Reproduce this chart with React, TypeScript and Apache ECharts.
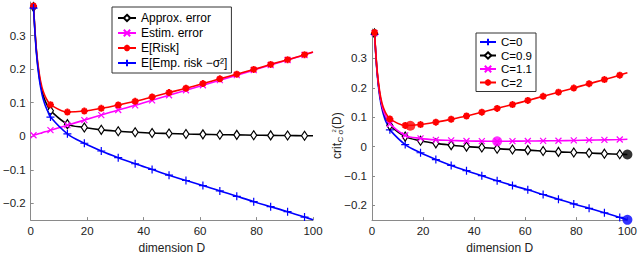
import React, { useEffect, useRef } from "react";
import * as echarts from "echarts";

// dimension D at which the curves are drawn (markers every 6 from 1 to 97)
const dims = [1, 2, 3, 4, 5, 6, 7, 13, 19, 25, 31, 37, 43, 49, 55, 61, 67, 73, 79, 85, 91, 97, 100];
const markerDims = [1, 7, 13, 19, 25, 31, 37, 43, 49, 55, 61, 67, 73, 79, 85, 91, 97];

// left panel
const approxError = [0.385, 0.255, 0.18, 0.135, 0.108, 0.09, 0.076, 0.036, 0.026, 0.019, 0.015, 0.012, 0.0095, 0.008, 0.0065, 0.0055, 0.0045, 0.004, 0.003, 0.0025, 0.002, 0.0015, 0.0012];
const estimError = [0.003, 0.005, 0.008, 0.01, 0.013, 0.015, 0.018, 0.033, 0.048, 0.063, 0.078, 0.092, 0.107, 0.122, 0.137, 0.152, 0.167, 0.182, 0.197, 0.212, 0.227, 0.242, 0.25];
const expRisk = [0.388, 0.26, 0.188, 0.145, 0.121, 0.105, 0.094, 0.072, 0.075, 0.083, 0.093, 0.104, 0.117, 0.13, 0.143, 0.157, 0.171, 0.185, 0.199, 0.214, 0.228, 0.243, 0.251];
const expEmpRisk = [0.382, 0.25, 0.172, 0.125, 0.095, 0.075, 0.057, 0.007, -0.021, -0.044, -0.064, -0.082, -0.099, -0.116, -0.132, -0.147, -0.163, -0.179, -0.195, -0.21, -0.225, -0.241, -0.249];

// right panel
const critC0 = [0.382, 0.25, 0.172, 0.125, 0.095, 0.075, 0.057, 0.007, -0.021, -0.044, -0.064, -0.082, -0.099, -0.116, -0.132, -0.147, -0.163, -0.179, -0.195, -0.21, -0.225, -0.241, -0.249];
const critC09 = [0.385, 0.254, 0.179, 0.134, 0.107, 0.088, 0.072, 0.034, 0.02, 0.011, 0.005, 0.0, -0.003, -0.007, -0.01, -0.012, -0.015, -0.018, -0.02, -0.022, -0.024, -0.026, -0.027];
const critC11 = [0.386, 0.256, 0.181, 0.136, 0.109, 0.091, 0.077, 0.038, 0.028, 0.023, 0.021, 0.019, 0.0185, 0.018, 0.0185, 0.019, 0.0195, 0.02, 0.021, 0.022, 0.023, 0.024, 0.025];
const critC2 = [0.388, 0.26, 0.188, 0.145, 0.121, 0.105, 0.094, 0.072, 0.075, 0.083, 0.093, 0.104, 0.117, 0.13, 0.143, 0.157, 0.171, 0.185, 0.199, 0.214, 0.228, 0.243, 0.251];

// selected dimension (minimum of each criterion)
const minC0: [number, number] = [100, -0.249];
const minC09: [number, number] = [100, -0.027];
const minC11: [number, number] = [49, 0.018];
const minC2: [number, number] = [15, 0.071];

const yTicks = [-0.2, -0.1, 0, 0.1, 0.2, 0.3];

const leftNames = ["Approx. error", "Estim. error", "E[Risk]", "E[Emp. risk \u2212\u03c3\u00b2]"];
const rightNames = ["C=0", "C=0.9", "C=1.1", "C=2"];

const FONT = "Liberation Sans, Arial, Helvetica, sans-serif";
const BLACK = "#000000";
const MAGENTA = "#ff00ff";
const RED = "#ff0000";
const BLUE = "#0000ff";

const SYM_PLUS = "path://M5 0V10M0 5H10";
const SYM_X = "path://M0 0L10 10M10 0L0 10";
const SYM_STAR = "path://M5 0V10M0 5H10M1.5 1.5L8.5 8.5M8.5 1.5L1.5 8.5";

function buildData(values: number[], symbol: string) {
  return dims.map((d, i) => {
    const item: any = { value: [d, values[i]] };
    item.symbol = markerDims.includes(d) ? symbol : "none";
    return item;
  });
}

function lineSeries(name: string, values: number[], color: string, symbol: string, size: any, axis: number, fill: string, bw: number, z: number) {
  return {
    type: "line",
    name,
    xAxisIndex: axis,
    yAxisIndex: axis,
    data: buildData(values, symbol),
    symbol,
    symbolSize: size,
    smooth: 0.35,
    z,
    lineStyle: { color, width: 1.6 },
    itemStyle: { color: fill, borderColor: color, borderWidth: bw },
    emphasis: { disabled: true },
  };
}

function fmt(v: number) {
  const r = Math.round(v * 10) / 10;
  if (r === 0) return "0";
  return r < 0 ? "\u2212" + Math.abs(r).toString() : r.toString();
}

function axisPair(gridIndex: number) {
  const xAxis = {
    type: "value",
    gridIndex,
    min: 0,
    max: 100,
    interval: 20,
    name: "dimension D",
    nameLocation: "middle",
    nameGap: 20,
    nameTextStyle: { fontFamily: FONT, fontSize: 12, color: "#222" },
    axisLine: { show: true, onZero: false, lineStyle: { color: "#8a8a8a", width: 1 } },
    axisTick: { show: true, inside: true, length: 3, lineStyle: { color: "#8a8a8a" } },
    axisLabel: { margin: 5, fontFamily: FONT, fontSize: 11.5, color: "#222" },
    splitLine: { show: false },
  };
  const yAxis = {
    type: "value",
    gridIndex,
    min: -0.25,
    max: 0.4,
    axisLine: { show: true, onZero: false, lineStyle: { color: "#8a8a8a", width: 1 } },
    axisTick: { show: true, inside: true, length: 3, lineStyle: { color: "#8a8a8a" }, customValues: yTicks },
    axisLabel: { margin: 5, fontFamily: FONT, fontSize: 11.5, color: "#222", customValues: yTicks, formatter: fmt },
    splitLine: { show: false },
  };
  return { xAxis, yAxis };
}

export default function App() {
  const ref = useRef<HTMLDivElement>(null);
  useEffect(() => {
    if (!ref.current) return;
    const chart = echarts.init(ref.current, null, { renderer: "svg" });
    const a0 = axisPair(0);
    const a1 = axisPair(1);
    const option: any = {
      animation: false,
      backgroundColor: "#ffffff",
      textStyle: { fontFamily: FONT },
      grid: [
        { left: 25, right: 327, top: 2, bottom: 24.5 },
        { left: 372, right: 8, top: 29, bottom: 24 },
      ],
      xAxis: [a0.xAxis, a1.xAxis],
      yAxis: [a0.yAxis, a1.yAxis],
      legend: [
        {
          data: leftNames,
          orient: "vertical",
          left: 112,
          top: 7,
          padding: [5, 4, 4, 5],
          itemWidth: 18,
          itemHeight: 8,
          itemGap: 3,
          borderColor: "#333",
          borderWidth: 1,
          backgroundColor: "#fff",
          textStyle: { fontFamily: FONT, fontSize: 12, color: "#000", lineHeight: 12 },
        },
        {
          data: rightNames,
          orient: "vertical",
          left: 476,
          top: 33,
          padding: [3, 4, 3, 3],
          itemWidth: 16,
          itemHeight: 8,
          itemGap: 1.5,
          borderColor: "#333",
          borderWidth: 1,
          backgroundColor: "#fff",
          textStyle: { fontFamily: FONT, fontSize: 11.5, color: "#000", lineHeight: 11 },
        },
      ],
      graphic: [
        {
          type: "group",
          x: 337,
          y: 134,
          rotation: Math.PI / 2,
          children: [
            { type: "text", x: -25, y: 0, style: { text: "crit", fontFamily: FONT, fontSize: 12, fill: "#222", verticalAlign: "middle" } },
            { type: "text", x: -8.5, y: 3, style: { text: "C \u03c3", fontFamily: FONT, fontSize: 8, fill: "#222", verticalAlign: "middle" } },
            { type: "text", x: 1.5, y: -3, style: { text: "2", fontFamily: FONT, fontSize: 6, fill: "#222", verticalAlign: "middle" } },
            { type: "text", x: 5, y: 0, style: { text: "(D)", fontFamily: FONT, fontSize: 12, fill: "#222", verticalAlign: "middle" } },
          ],
        },
      ],
      series: [
        lineSeries(leftNames[0], approxError, BLACK, "diamond", [6, 9], 0, "#ffffff", 1.2, 2),
        lineSeries(leftNames[1], estimError, MAGENTA, SYM_X, 6, 0, MAGENTA, 1.2, 3),
        lineSeries(leftNames[2], expRisk, RED, SYM_STAR, 7, 0, RED, 2, 4),
        lineSeries(leftNames[3], expEmpRisk, BLUE, SYM_PLUS, 8, 0, BLUE, 1.2, 5),
        lineSeries(rightNames[0], critC0, BLUE, SYM_PLUS, 8, 1, BLUE, 1.2, 2),
        lineSeries(rightNames[1], critC09, BLACK, "diamond", [6, 9], 1, "#ffffff", 1.2, 3),
        lineSeries(rightNames[2], critC11, MAGENTA, SYM_X, 6, 1, MAGENTA, 1.2, 4),
        lineSeries(rightNames[3], critC2, RED, SYM_STAR, 7, 1, RED, 2, 5),
        {
          type: "scatter",
          xAxisIndex: 1,
          yAxisIndex: 1,
          symbol: "circle",
          symbolSize: 10,
          z: 10,
          data: [
            { value: minC0, itemStyle: { color: BLUE } },
            { value: minC09, itemStyle: { color: BLACK } },
            { value: minC11, itemStyle: { color: MAGENTA } },
            { value: minC2, itemStyle: { color: RED } },
          ],
          emphasis: { disabled: true },
        },
      ],
    };
    chart.setOption(option);
    return () => chart.dispose();
  }, []);
  return (
    <div
      ref={ref}
      style={{ position: "absolute", left: 0, top: 0, width: 640, height: 259 }}
    />
  );
}
